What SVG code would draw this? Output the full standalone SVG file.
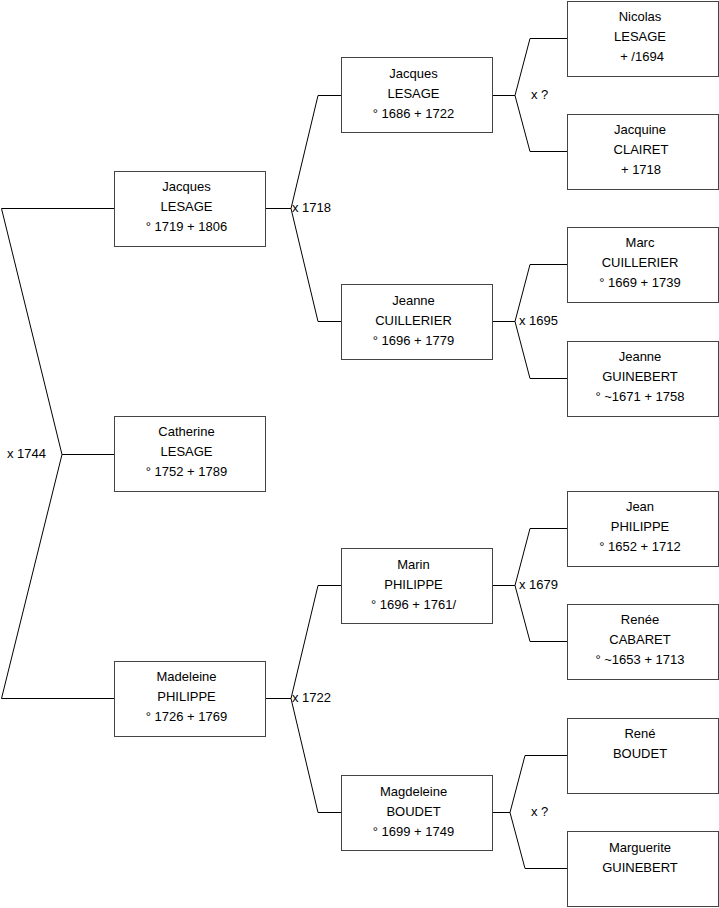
<svg xmlns="http://www.w3.org/2000/svg" width="719" height="908" viewBox="0 0 719 908">
<style>
.box{fill:#fff;stroke:#444;stroke-width:1}
.t{font-family:"Liberation Sans",Arial,sans-serif;font-size:13px;fill:#000;text-anchor:middle}
.l{font-family:"Liberation Sans",Arial,sans-serif;font-size:13px;fill:#000}
.c{fill:none;stroke:#000;stroke-width:1}
</style>
<rect width="719" height="908" fill="#fff"/>
<g id="connectors">
<path class="c" d="M114,208.5 H1.5 L62,454.5 L1.5,698.5 H114 M62,454.5 H114"/>
<path class="c" d="M265,208.5 H291 M341,95.5 H318 L291,208.5 L318,321.5 H341"/>
<path class="c" d="M492,95.5 H515 M567,38.5 H530 L515,95.5 L530,151.5 H567"/>
<path class="c" d="M492,321.5 H515 M567,264.5 H530 L515,321.5 L530,378.5 H567"/>
<path class="c" d="M265,698.5 H291 M341,585.5 H318 L291,698.5 L318,812.5 H341"/>
<path class="c" d="M492,585.5 H515 M567,528.5 H530 L515,585.5 L530,641.5 H567"/>
<path class="c" d="M492,812.5 H510 M567,755.5 H525 L510,812.5 L525,868.5 H567"/>
<text class="l" x="7" y="458">x 1744</text>
<text class="l" x="292" y="212">x 1718</text>
<text class="l" x="531" y="99">x ?</text>
<text class="l" x="519" y="325">x 1695</text>
<text class="l" x="292" y="702">x 1722</text>
<text class="l" x="519" y="589">x 1679</text>
<text class="l" x="531" y="816">x ?</text>
</g>
<g id="n-jacques-1719"><rect class="box" x="114.5" y="171.5" width="151" height="75"/><text class="t" x="186.5" y="191">Jacques</text><text class="t" x="186.5" y="211">LESAGE</text><text class="t" x="186.5" y="231">° 1719 + 1806</text></g>
<g id="n-catherine"><rect class="box" x="114.5" y="416.5" width="151" height="75"/><text class="t" x="186.5" y="436">Catherine</text><text class="t" x="186.5" y="456">LESAGE</text><text class="t" x="186.5" y="476">° 1752 + 1789</text></g>
<g id="n-madeleine"><rect class="box" x="114.5" y="661.5" width="151" height="75"/><text class="t" x="186.5" y="681">Madeleine</text><text class="t" x="186.5" y="701">PHILIPPE</text><text class="t" x="186.5" y="721">° 1726 + 1769</text></g>
<g id="n-jacques-1686"><rect class="box" x="341.5" y="57.5" width="151" height="75"/><text class="t" x="413.5" y="78">Jacques</text><text class="t" x="413.5" y="98">LESAGE</text><text class="t" x="413.5" y="118">° 1686 + 1722</text></g>
<g id="n-jeanne-cuillerier"><rect class="box" x="341.5" y="284.5" width="151" height="75"/><text class="t" x="413.5" y="305">Jeanne</text><text class="t" x="413.5" y="325">CUILLERIER</text><text class="t" x="413.5" y="345">° 1696 + 1779</text></g>
<g id="n-marin"><rect class="box" x="341.5" y="548.5" width="151" height="75"/><text class="t" x="413.5" y="569">Marin</text><text class="t" x="413.5" y="589">PHILIPPE</text><text class="t" x="413.5" y="609">° 1696 + 1761/</text></g>
<g id="n-magdeleine"><rect class="box" x="341.5" y="775.5" width="151" height="75"/><text class="t" x="413.5" y="796">Magdeleine</text><text class="t" x="413.5" y="816">BOUDET</text><text class="t" x="413.5" y="836">° 1699 + 1749</text></g>
<g id="n-nicolas"><rect class="box" x="567.5" y="1.5" width="151" height="75"/><text class="t" x="640" y="21">Nicolas</text><text class="t" x="640" y="41">LESAGE</text><text class="t" x="642" y="61">+ /1694</text></g>
<g id="n-jacquine"><rect class="box" x="567.5" y="114.5" width="151" height="75"/><text class="t" x="640" y="134">Jacquine</text><text class="t" x="641" y="154">CLAIRET</text><text class="t" x="641" y="174">+ 1718</text></g>
<g id="n-marc"><rect class="box" x="567.5" y="227.5" width="151" height="75"/><text class="t" x="640" y="247">Marc</text><text class="t" x="640" y="267">CUILLERIER</text><text class="t" x="640" y="287">° 1669 + 1739</text></g>
<g id="n-jeanne-guinebert"><rect class="box" x="567.5" y="341.5" width="151" height="75"/><text class="t" x="640" y="361">Jeanne</text><text class="t" x="640" y="381">GUINEBERT</text><text class="t" x="640" y="401">° ~1671 + 1758</text></g>
<g id="n-jean"><rect class="box" x="567.5" y="491.5" width="151" height="75"/><text class="t" x="640" y="511">Jean</text><text class="t" x="640" y="531">PHILIPPE</text><text class="t" x="640" y="551">° 1652 + 1712</text></g>
<g id="n-renee"><rect class="box" x="567.5" y="604.5" width="151" height="75"/><text class="t" x="640" y="624">Renée</text><text class="t" x="640" y="644">CABARET</text><text class="t" x="640" y="664">° ~1653 + 1713</text></g>
<g id="n-rene"><rect class="box" x="567.5" y="718.5" width="151" height="75"/><text class="t" x="640" y="738">René</text><text class="t" x="640" y="758">BOUDET</text></g>
<g id="n-marguerite"><rect class="box" x="567.5" y="831.5" width="151" height="75"/><text class="t" x="640" y="852">Marguerite</text><text class="t" x="640" y="872">GUINEBERT</text></g>
</svg>
